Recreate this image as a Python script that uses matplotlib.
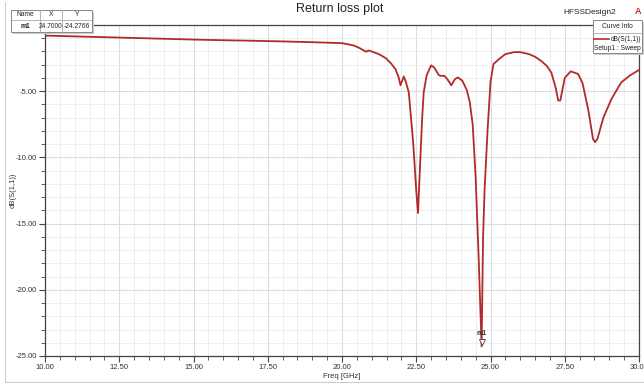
import numpy as np
import matplotlib
matplotlib.use("Agg")
import matplotlib.pyplot as plt
from matplotlib.patches import Rectangle
from matplotlib.lines import Line2D
from matplotlib.ticker import MultipleLocator

plt.rcParams['font.family'] = ['Liberation Sans', 'DejaVu Sans']

# data
freq = [10.0, 11.0, 12.0, 13.0, 14.0, 15.0, 16.0, 17.0, 18.0, 19.0, 20.0,
        20.4, 20.6, 20.75, 20.82, 20.9, 21.0, 21.24, 21.47, 21.65, 21.8, 21.9,
        21.97, 22.08, 22.15, 22.25, 22.4, 22.5, 22.56, 22.62, 22.7, 22.75,
        22.85, 23.0, 23.1, 23.25, 23.31, 23.45, 23.55, 23.68, 23.8, 23.9,
        24.05, 24.2, 24.3, 24.4, 24.5, 24.6, 24.7, 24.75, 24.8, 24.9, 25.0,
        25.1, 25.3, 25.5, 25.8, 26.0, 26.3, 26.5, 26.7, 26.9, 27.05, 27.2,
        27.28, 27.35, 27.5, 27.7, 27.95, 28.1, 28.3, 28.45, 28.52, 28.6,
        28.8, 29.07, 29.4, 29.7, 30.0]
s11 = [-0.80, -0.86, -0.92, -0.98, -1.04, -1.10, -1.15, -1.19, -1.24, -1.30, -1.37,
       -1.55, -1.75, -1.95, -2.02, -1.92, -2.0, -2.2, -2.5, -2.9, -3.33, -3.9,
       -4.55, -3.89, -4.3, -5.1, -9.0, -12.5, -14.2, -11.0, -7.0, -5.1,
       -3.8, -3.05, -3.2, -3.75, -3.84, -3.84, -4.1, -4.55, -4.1, -3.96,
       -4.2, -4.9, -5.8, -7.5, -11.5, -17.5, -24.28, -16.0, -12.5, -8.0, -4.3,
       -2.95, -2.55, -2.2, -2.05, -2.05, -2.2, -2.4, -2.7, -3.1, -3.6, -4.8,
       -5.7, -5.7, -4.0, -3.5, -3.7, -4.4, -6.5, -8.6, -8.85, -8.6,
       -7.0, -5.6, -4.34, -3.8, -3.4]

marker_x = 24.7
marker_y = -24.2766

W, H = 644, 385
fig = plt.figure(figsize=(W / 100, H / 100), dpi=100)

def fx(px):
    return px / W

def fy(py):
    return 1 - py / H

ax = fig.add_axes([fx(45), fy(356), fx(639) - fx(45), fy(25) - fy(356)])
ax.plot(freq, s11, color='#b22a2a', lw=1.3, solid_joinstyle='round')
ax.set_xlim(10, 30)
ax.set_ylim(-25, 0)
ax.xaxis.set_major_locator(MultipleLocator(2.5))
ax.xaxis.set_minor_locator(MultipleLocator(0.5))
ax.set_yticks([-25, -20, -15, -10, -5])
ax.yaxis.set_minor_locator(MultipleLocator(1))
ax.xaxis.set_major_formatter(lambda v, p: f"{v:.2f}")
ax.yaxis.set_major_formatter(lambda v, p: f"{v:.2f}")
ax.grid(which='major', color='#dcdcdc', lw=0.8)
ax.grid(which='minor', color='#ebebeb', lw=0.6)
ax.set_axisbelow(True)
ax.tick_params(which='major', length=4, width=0.8, color='#444444', labelsize=5.5,
               labelcolor='#333333', pad=2)
ax.tick_params(which='minor', length=3, width=0.6, color='#444444')
for s in ax.spines.values():
    s.set_color('#444444')
    s.set_linewidth(0.9)
ax.set_xlabel('Freq [GHz]', fontsize=5.5, color='#333333', labelpad=1)
ax.set_ylabel('dB(S(1,1))', fontsize=5.5, color='#333333')
ax.yaxis.set_label_coords((17 - 45) / 594, 0.5)

# marker m1
ax.plot([marker_x], [marker_y + 0.35], marker='v', ms=4, mfc='white', mec='#555555',
        mew=0.7, ls='none')
ax.text(marker_x, marker_y + 0.7, 'm1', fontsize=5, ha='center', va='bottom',
        fontweight='bold', color='#333333')

# title and design name
fig.text(fx(340), fy(9), 'Return loss plot', fontsize=9, ha='center', va='center',
         color='#222222')
fig.text(fx(590), fy(12), 'HFSSDesign2', fontsize=6, ha='center', va='center',
         color='#222222')
fig.text(fx(638), fy(11), 'A', fontsize=6.5, ha='center', va='center', color='#c03030',
         fontweight='bold')

# marker table
def box(x0, y0, x1, y1, fc='white', ec='#888888', lw=0.7, z=5):
    fig.patches.append(Rectangle((fx(x0), fy(y1)), fx(x1) - fx(x0), fy(y0) - fy(y1),
                                 transform=fig.transFigure, fc=fc, ec=ec, lw=lw, zorder=z))

box(13, 12, 94, 34, fc='#cccccc', ec='none', z=4)
box(11, 10, 92, 32)
for xv in (40, 62):
    fig.add_artist(Line2D([fx(xv), fx(xv)], [fy(10), fy(32)], color='#aaaaaa', lw=0.6, zorder=6))
fig.add_artist(Line2D([fx(11), fx(92)], [fy(20), fy(20)], color='#aaaaaa', lw=0.6, zorder=6))
tab_kw = dict(fontsize=4.8, ha='center', va='center', color='#222222', zorder=7)
fig.text(fx(25.5), fy(15), 'Name', **tab_kw)
fig.text(fx(51), fy(15), 'X', **tab_kw)
fig.text(fx(77), fy(15), 'Y', **tab_kw)
fig.text(fx(25.5), fy(26), 'm1', fontweight='bold', **tab_kw)
fig.text(fx(51), fy(26), '24.7000', **tab_kw)
fig.text(fx(77), fy(26), '-24.2766', **tab_kw)

# curve info legend
box(595, 22, 644, 55, fc='#cccccc', ec='none', z=4)
box(593, 20, 642, 53)
fig.add_artist(Line2D([fx(593), fx(642)], [fy(33), fy(33)], color='#aaaaaa', lw=0.6, zorder=6))
fig.text(fx(617), fy(27), 'Curve Info', fontsize=4.8, ha='center', va='center',
         color='#222222', zorder=7)
fig.add_artist(Line2D([fx(594), fx(609)], [fy(39), fy(39)], color='#b22a2a', lw=1.2, zorder=7))
fig.text(fx(641), fy(39.5), 'dB(S(1,1))', fontsize=4.8, ha='right', va='center',
         color='#222222', zorder=7)
fig.text(fx(594), fy(48), 'Setup1 : Sweep', fontsize=4.8, ha='left', va='center',
         color='#222222', zorder=7)

# outer frame
fig.add_artist(Line2D([fx(5), fx(5)], [fy(2), fy(382)], color='#cfcfcf', lw=0.8))
fig.add_artist(Line2D([fx(5), fx(644)], [fy(382), fy(382)], color='#cfcfcf', lw=0.8))

fig.savefig('out.png', dpi=100)
